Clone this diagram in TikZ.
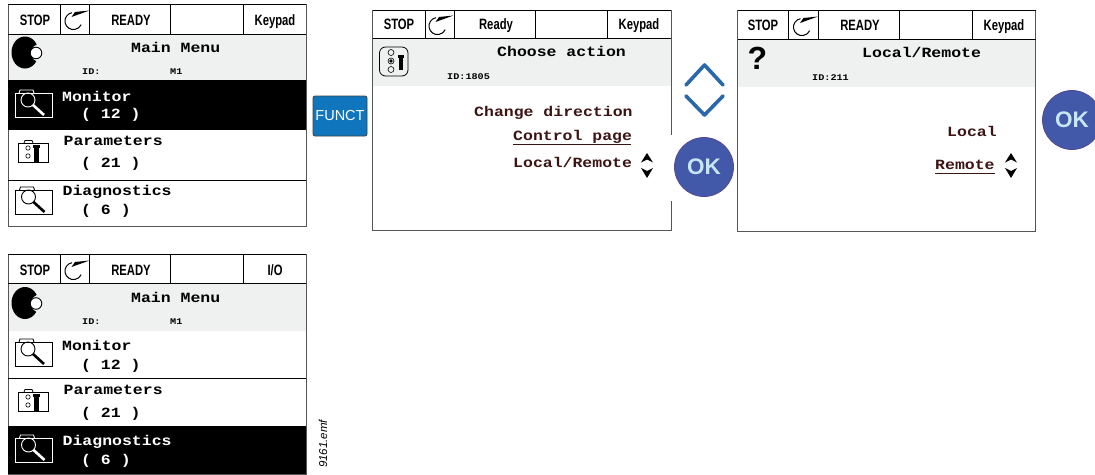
\documentclass[tikz,border=0pt]{standalone}
\usepackage{fontspec}
\setmainfont{Liberation Sans}
\newfontfamily\condfont[FakeStretch=0.75]{Liberation Sans}
\newfontfamily\monofont[FakeStretch=1.17]{Liberation Mono}
\definecolor{bandgrey}{HTML}{EFF1F0}
\definecolor{framegrey}{HTML}{555555}
\definecolor{darkbrown}{HTML}{3D1414}
\definecolor{functblue}{HTML}{0F75BD}
\definecolor{okblue}{HTML}{4159A8}
\definecolor{oktext}{HTML}{C8E6F2}
\definecolor{chevblue}{HTML}{2868AB}
\tikzset{
  headtxt/.style={inner sep=0pt,anchor=base,font=\condfont\bfseries\fontsize{15}{15}\selectfont},
  monotxt/.style={inner sep=0pt,anchor=base west,font=\monofont\bfseries\fontsize{14.1}{15}\selectfont},
  idtxt/.style={inner sep=0pt,anchor=base west,font=\monofont\bfseries\fontsize{8.7}{9}\selectfont},
  browntxt/.style={monotxt,text=darkbrown},
  frameline/.style={draw=framegrey,line width=1pt},
  divline/.style={draw=black,line width=1pt},
  chev/.style={draw=chevblue,line width=3.6pt,line cap=round,line join=round},
  okbtn/.style={circle,fill=okblue,draw=okblue!80!purple,line width=0.8pt,minimum size=59pt,inner sep=0pt,text=oktext,font=\bfseries\fontsize{22.5}{24}\selectfont},
  functbtn/.style={rectangle,rounded corners=2pt,fill=functblue,draw=black!75,line width=0.8pt,minimum width=54pt,minimum height=40pt,inner sep=0pt,text=white,font=\fontsize{14.5}{16}\selectfont},
}
\newcommand{\panelbase}[8]{%
  \fill[bandgrey] (#1,#5) rectangle (#3,#6);
  \draw[frameline] (#1,#2) rectangle (#3,#4);
  \draw[divline] (#1,#2) -- (#3,#2);
  \draw[divline] (#1,#5) -- (#3,#5);
  \foreach \vx in {#7,#8} {\draw[divline] (\vx,#2) -- (\vx,#5);}
}
\newcommand{\spinicon}[2]{%
  \begin{scope}[shift={(#1,#2)}]
    \draw[black,line width=1pt] (-1.5,-8.3) arc[start angle=260,end angle=25,radius=8.5];
    \fill[black] (16,-10.5) -- (-2,-4) -- (1.5,-9) -- cycle;
  \end{scope}}
\newcommand{\foldericon}[3]{%
  \begin{scope}[shift={(#1,#2)}]
    \draw[#3,line width=0.9pt] (0,4) rectangle (37,28);
    \draw[#3,line width=0.9pt] (4,4) -- (5,1) -- (18,1) -- (19,4);
    \draw[#3,line width=0.9pt] (13,11) circle[radius=7];
    \draw[#3,line width=2.6pt] (18,16) -- (29,26);
  \end{scope}}
\newcommand{\paramicon}[2]{%
  \begin{scope}[shift={(#1,#2)}]
    \draw[black,line width=0.8pt] (0,3) rectangle (30,22);
    \draw[black,line width=0.8pt] (6,3) -- (7,0.5) -- (14,0.5) -- (15,3);
    \draw[black,line width=0.6pt] (10,8) circle[radius=2.2] (10,16) circle[radius=2.2];
    \fill[black] (15,5) rectangle (21.5,8);
    \fill[black] (16,5) rectangle (20.5,21.5);
  \end{scope}}
\newcommand{\menuicon}[2]{%
  \begin{scope}[shift={(#1,#2)}]
    \fill[black] (0,0) ellipse[x radius=13.5,y radius=16];
    \fill[bandgrey] (15,0.5) circle[radius=9];
    \draw[black,fill=white,line width=0.9pt] (11,0.5) circle[radius=5.8];
  \end{scope}}
\newcommand{\updown}[2]{%
  \begin{scope}[shift={(#1,#2)}]
    \fill[black] (0,0) -- (6,9.5) -- (0,6.5) -- (-6,9.5) -- cycle;
    \fill[black] (0,25) -- (6,15) -- (0,18) -- (-6,15) -- cycle;
  \end{scope}}
\begin{document}
\begin{tikzpicture}[x=1pt,y=-1pt]
\useasboundingbox (0,0) rectangle (1095,474);
\fill[white] (0,0) rectangle (1095,474);

% ---------- panel 1
\panelbase{8}{4}{306}{226}{34}{80}{60}{89.5}
\foreach \vx in {170,243} {\draw[divline] (\vx,4) -- (\vx,34);}
\spinicon{73.5}{21}
\node[headtxt] (p1stop) at (35,25) {STOP};
\node[headtxt] (p1ready) at (131,25) {READY};
\node[headtxt] (p1key) at (275,25) {Keypad};
\menuicon{25}{52.5}
\node[monotxt] (p1title) at (131,52) {Main Menu};
\node[idtxt] (p1id) at (82,74) {ID:};
\node[idtxt] (p1m) at (170,74) {M1};
\fill[black] (8,80) rectangle (306,130);
\foldericon{15}{89}{white}
\node[monotxt,text=white] (p1a) at (62,101) {Monitor};
\node[monotxt,text=white] (p1b) at (81,118) {( 12 )};
\paramicon{18}{140}
\node[monotxt] (p1c) at (63.5,145) {Parameters};
\node[monotxt] (p1d) at (81,167) {( 21 )};
\draw[divline] (8,180.5) -- (306,180.5);
\foldericon{15.5}{186}{black}
\node[monotxt] (p1e) at (62.5,195) {Diagnostics};
\node[monotxt] (p1f) at (81,214) {( 6 )};

% ---------- panel 4
\panelbase{8}{254}{306}{474}{283}{331}{60}{89.5}
\foreach \vx in {170,243} {\draw[divline] (\vx,254) -- (\vx,283);}
\spinicon{73.5}{271}
\node[headtxt] (p4stop) at (35,275) {STOP};
\node[headtxt] (p4ready) at (131,275) {READY};
\node[headtxt] (p4io) at (275,275) {I/O};
\menuicon{25}{303}
\node[monotxt] (p4title) at (131,302) {Main Menu};
\node[idtxt] (p4id) at (82,324) {ID:};
\node[idtxt] (p4m) at (170,324) {M1};
\foldericon{15}{338}{black}
\node[monotxt] (p4a) at (62,350) {Monitor};
\node[monotxt] (p4b) at (81,369) {( 12 )};
\draw[divline] (8,378.5) -- (306,378.5);
\paramicon{18}{389}
\node[monotxt] (p4c) at (63.5,394) {Parameters};
\node[monotxt] (p4d) at (81,417) {( 21 )};
\fill[black] (8,426) rectangle (306,474);
\foldericon{15.5}{434}{white}
\node[monotxt,text=white] (p4e) at (62.5,445) {Diagnostics};
\node[monotxt,text=white] (p4f) at (81,464) {( 6 )};
\node[inner sep=0pt,rotate=90,anchor=base west,font=\itshape\fontsize{11.5}{12}\selectfont] (emf) at (327,468) {9161.emf};

% ---------- FUNCT
\node[functbtn] (funct) at (340,116) {FUNCT};

% ---------- panel 2
\panelbase{372.5}{10}{671}{230}{38}{86}{425}{454}
\foreach \vx in {535,607} {\draw[divline] (\vx,10) -- (\vx,38);}
\fill[white] (670,135) rectangle (672.5,201);
\spinicon{437.5}{26}
\node[headtxt] (p2stop) at (399,29) {STOP};
\node[headtxt] (p2ready) at (496,29) {Ready};
\node[headtxt] (p2key) at (639,29) {Keypad};
\draw[black,line width=0.8pt,rounded corners=6pt] (379.5,47) rectangle (408,76);
\draw[black,line width=0.6pt] (391,52.5) circle[radius=3] (391,69.5) circle[radius=3] (391,61) circle[radius=3];
\fill[black] (391,61) circle[radius=1.8];
\fill[black] (397.5,55) rectangle (403.5,58);
\fill[black] (398.5,55) rectangle (402.5,70);
\node[monotxt] (p2title) at (497,56) {Choose action};
\node[idtxt] (p2id) at (447,79) {ID:1805};
\node[browntxt] (p2a) at (474,116) {Change direction};
\node[browntxt] (p2b) at (513,140) {Control page};
\draw[draw=darkbrown,line width=1.1pt] (p2b.base west)++(0,4.3) -- ++(118,0);
\node[browntxt] (p2c) at (513,167) {Local/Remote};
\updown{647}{153}

% ---------- chevrons and OK
\draw[chev] (686,85) -- (704.5,65) -- (723,85);
\draw[chev] (686,96) -- (704.5,115) -- (723,96);
\node[okbtn] (ok1) at (704,167) {OK};

% ---------- panel 3
\panelbase{737.5}{10}{1035.5}{231}{39}{87}{788.5}{818}
\foreach \vx in {899,972.5} {\draw[divline] (\vx,10) -- (\vx,39);}
\spinicon{802}{27}
\node[headtxt] (p3stop) at (763,30) {STOP};
\node[headtxt] (p3ready) at (860,30) {READY};
\node[headtxt] (p3key) at (1004,30) {Keypad};
\node[inner sep=0pt,anchor=base,font=\bfseries\fontsize{32}{32}\selectfont] (p3q) at (757.5,69) {?};
\node[monotxt] (p3title) at (862,57) {Local/Remote};
\node[idtxt] (p3id) at (812,80) {ID:211};
\node[browntxt] (p3a) at (947,136) {Local};
\node[browntxt] (p3b) at (935,169) {Remote};
\draw[draw=darkbrown,line width=1.1pt] (p3b.base west)++(0,4.3) -- ++(60,0);
\updown{1011}{153}
\node[okbtn] (ok2) at (1072,120) {OK};
\end{tikzpicture}
\end{document}
